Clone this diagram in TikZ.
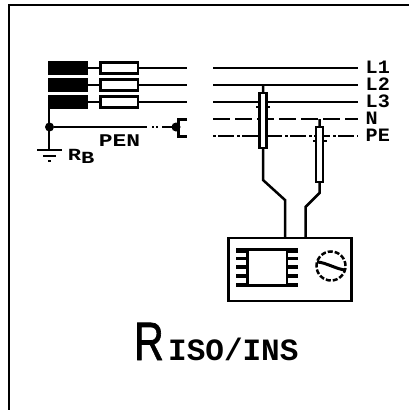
\documentclass[tikz,border=0pt]{standalone}
\usepackage{fontspec}
\setmainfont{Liberation Sans}
\newfontfamily\pxmono{Liberation Mono}
\newfontfamily\bigrfont{Liberation Sans}[FakeBold=1.5]
\tikzset{
 wire/.style={line width=2.5pt,line cap=butt},
 blk/.style={draw=none,fill=black,minimum width=40pt,minimum height=14.5pt,inner sep=0pt,outer sep=0pt},
 fuse/.style={draw,line width=2.5pt,fill=white,minimum width=37.5pt,minimum height=11pt,inner sep=0pt,outer sep=0pt},
 probe/.style={draw,line width=2.5pt,fill=white,minimum width=6.6pt,inner sep=0pt,outer sep=0pt},
 jn/.style={circle,fill=black,minimum size=9pt,inner sep=0pt,outer sep=0pt},
 lbl/.style={anchor=west,inner sep=0pt,text height=10pt,text depth=0pt,xscale=1.12,yscale=1.05,transform shape,font=\pxmono\bfseries\fontsize{18}{18}\selectfont},
 ndash/.style={wire,dash pattern=on 17pt off 5pt},
 pedash/.style={wire,dash pattern=on 3pt off 2pt on 16pt off 3pt},
 x=1pt,y=-1pt
}
\begin{document}
\begin{tikzpicture}
\useasboundingbox (0,0) rectangle (409,410);
% frame
\coordinate (fa) at (9,410); \coordinate (fb) at (9,5); \coordinate (fc) at (409,5);
\draw[wire] (fa) -- (fb) -- (fc);
% source
\node[blk] (b1) at (68,68) {};
\node[blk] (b2) at (68,85) {};
\node[blk] (b3) at (68,102) {};
\coordinate (e1) at (187,68); \coordinate (e2) at (187,85); \coordinate (e3) at (187,102);
\coordinate (s1) at (213,68); \coordinate (s2) at (213,85); \coordinate (s3) at (213,102);
\coordinate (s4) at (213,119); \coordinate (s5) at (213,136);
\coordinate (t1) at (358,68); \coordinate (t2) at (358,85); \coordinate (t3) at (358,102);
\coordinate (t4) at (358,119); \coordinate (t5) at (358,136);
\draw[wire] (b1.east) -- (e1);
\draw[wire] (b2.east) -- (e2);
\draw[wire] (b3.east) -- (e3);
\node[fuse] (f1) at (119,68) {};
\node[fuse] (f2) at (119,85) {};
\node[fuse] (f3) at (119,102) {};
\draw[wire] (s1) -- (t1);
\draw[wire] (s2) -- (t2);
\draw[wire] (s3) -- (t3);
\draw[ndash] (s4) -- (t4);
\draw[pedash] (s5) -- (t5);
% PEN
\node[jn] (j1) at (49.5,127) {};
\node[jn] (j2) at (176,127) {};
\coordinate (pm) at (146,127);
\coordinate (g1) at (49,150);
\coordinate (bt) at (49,109);
\draw[wire] (bt) -- (g1);
\draw[wire] (j1) -- (pm);
\draw[wire,dash pattern=on 1pt off 5pt on 2pt off 2pt on 2pt off 4pt on 20pt] (pm) -- (j2);
\coordinate (n1) at (187,119); \coordinate (n2) at (178,119);
\coordinate (n3) at (178,136); \coordinate (n4) at (187,136);
\draw[line width=3pt] (n1) -- (n2) -- (n3) -- (n4);
% earth
\coordinate (ga) at (37,150); \coordinate (gb) at (62,150);
\coordinate (gc) at (43,155.5); \coordinate (gd) at (56,155.5);
\coordinate (ge) at (48,161); \coordinate (gf) at (51,161);
\draw[wire] (ga) -- (gb);
\draw[line width=2pt] (gc) -- (gd);
\draw[line width=2pt] (ge) -- (gf);
% labels
\node[lbl] (l1) at (365.5,68.5) {L1};
\node[lbl] (l2) at (365.5,85.5) {L2};
\node[lbl] (l3) at (365.5,102.5) {L3};
\node[lbl] (l4) at (365.5,119.5) {N};
\node[lbl] (l5) at (365.5,136.5) {PE};
\node[anchor=west,inner sep=0pt,font=\pxmono\bfseries\fontsize{17}{17}\selectfont,xscale=1.35,yscale=1.05,transform shape] (pen) at (98.5,140.5) {PEN};
\node[anchor=west,inner sep=0pt,font=\pxmono\bfseries\fontsize{17}{17}\selectfont,xscale=1.3,transform shape] (rb) at (67.5,156.5) {R\raisebox{-3.5pt}{B}};
% instrument
\node[draw,line width=2.5pt,fill=white,minimum width=123pt,minimum height=63pt,inner sep=0pt,outer sep=0pt] (meter) at (290,269.5) {};
% probe 1
\coordinate (p1top) at (263,85);
\coordinate (p1a) at (263,180); \coordinate (p1b) at (285,200);
\coordinate (p1c) at (285,238);
\coordinate (ta) at (256,107); \coordinate (tb) at (270,107);
\draw[wire] (ta) -- (tb);
\draw[wire] (p1top) -- (p1a) -- (p1b) -- (p1c);
\node[probe,minimum height=55pt] (p1) at (263,120.5) {};
% probe 2
\coordinate (p2top) at (319.5,119);
\coordinate (p2a) at (319.5,193); \coordinate (p2b) at (305.5,207);
\coordinate (p2c) at (305.5,238);
\coordinate (tc) at (313,141); \coordinate (td) at (327,141);
\draw[wire] (tc) -- (td);
\draw[wire] (p2top) -- (p2a) -- (p2b) -- (p2c);
\node[probe,minimum height=55pt] (p2) at (319.5,154.5) {};
% display
\foreach \yy in {258.5,267,276}{
 \draw[line width=3.5pt] (236,\yy) -- (298,\yy);
}
\fill (236,248) rectangle (298,252.5);
\fill (236,282.5) rectangle (298,287);
\node[draw,line width=2.5pt,fill=white,minimum width=39.5pt,minimum height=35.5pt,inner sep=0pt,outer sep=0pt] (disp) at (267,267.5) {};
% knob
\node[circle,draw,line width=2.5pt,dash pattern=on 5pt off 2pt,minimum size=29pt,inner sep=0pt,outer sep=0pt] (knob) at (331,266) {};
\coordinate (ka) at (317,262); \coordinate (kb) at (346,270);
\draw[line width=3pt] (ka) .. controls (325,262) and (338,270) .. (kb);
% title
\node[anchor=base west,inner sep=0pt,font=\bigrfont\fontsize{54}{54}\selectfont,xscale=0.76,transform shape] (tr) at (134,360) {R};
\node[anchor=base west,inner sep=0pt,font=\pxmono\bfseries\fontsize{31}{31}\selectfont] (ti) at (168,360) {ISO/INS};
\end{tikzpicture}
\end{document}
